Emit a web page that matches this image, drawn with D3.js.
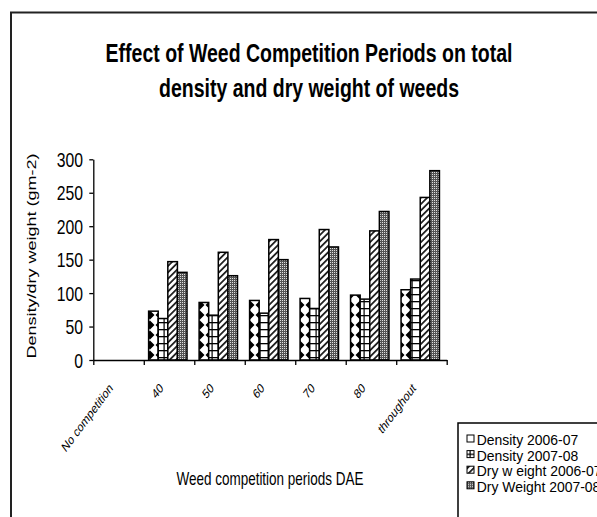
<!DOCTYPE html>
<html>
<head>
<meta charset="utf-8">
<script src="https://cdn.jsdelivr.net/npm/d3@7"></script>
<style>
  html, body { margin: 0; padding: 0; background: #fff; }
  svg { display: block; font-family: "Liberation Sans", Arial, sans-serif; }
</style>
</head>
<body>
<div id="chart"></div>
<script>
// data
const categories = ['No competition', '40', '50', '60', '70', '80', 'throughout'];
const seriesNames = ['Density 2006-07', 'Density 2007-08', 'Dry w eight 2006-07', 'Dry Weight 2007-08'];
const density0607 = [0, 73, 86, 89, 92, 97, 105];
const density0708 = [0, 62, 67, 70, 77, 91, 121];
const dryWeight0607 = [0, 147, 161, 180, 195, 193, 243];
const dryWeight0708 = [0, 131, 126, 150, 169, 222, 283];
const yTicks = [0, 50, 100, 150, 200, 250, 300];
const titleLines = ['Effect of Weed Competition Periods on total', 'density and dry weight of weeds'];

const W = 597, H = 517;
const sx = 0.75; // text in the picture is squeezed horizontally

const svg = d3.select('#chart').append('svg')
  .attr('width', W).attr('height', H);

const defs = svg.append('defs');

// density 2006-07: white with black bow-tie blobs
const p1 = defs.append('pattern').attr('id', 'pat0')
  .attr('patternUnits', 'userSpaceOnUse').attr('width', 10).attr('height', 10);
p1.append('rect').attr('width', 10).attr('height', 10).attr('fill', '#fff');
p1.append('path').attr('d', 'M0,0.5 L4.5,5 L0,9.5 Z M10,0.5 L5.5,5 L10,9.5 Z').attr('fill', '#000');

// density 2007-08: ladder / bricks
const p2 = defs.append('pattern').attr('id', 'pat1')
  .attr('patternUnits', 'userSpaceOnUse').attr('width', 8).attr('height', 7);
p2.append('rect').attr('width', 8).attr('height', 7).attr('fill', '#fff');
p2.append('rect').attr('width', 8).attr('height', 1.3).attr('fill', '#000');
p2.append('rect').attr('x', 3.5).attr('width', 1.2).attr('height', 7).attr('fill', '#000');

// dry weight 2006-07: wide upward diagonal
const p3 = defs.append('pattern').attr('id', 'pat2')
  .attr('patternUnits', 'userSpaceOnUse').attr('width', 4.5).attr('height', 4.5)
  .attr('patternTransform', 'rotate(45)');
p3.append('rect').attr('width', 4.5).attr('height', 4.5).attr('fill', '#fff');
p3.append('rect').attr('width', 1.8).attr('height', 4.5).attr('fill', '#222');

// dry weight 2007-08: fine grey dots
const p4 = defs.append('pattern').attr('id', 'pat3')
  .attr('patternUnits', 'userSpaceOnUse').attr('width', 2).attr('height', 2);
p4.append('rect').attr('width', 2).attr('height', 2).attr('fill', '#555');
p4.append('rect').attr('width', 1).attr('height', 1).attr('fill', '#e0e0e0');

const fills = ['url(#pat0)', 'url(#pat1)', 'url(#pat2)', 'url(#pat3)'];
const legendFills = ['#fff', 'url(#pat1)', 'url(#pat2)', 'url(#pat3)'];

// outer chart frame
svg.append('rect')
  .attr('x', 11).attr('y', 12.5).attr('width', 700).attr('height', 700)
  .attr('fill', 'none').attr('stroke', '#222').attr('stroke-width', 2);

// title
svg.selectAll('text.title')
  .data(titleLines)
  .enter()
  .append('text')
  .attr('class', 'title')
  .attr('transform', (d, i) => `translate(309,${62 + i * 35}) scale(${sx},1)`)
  .attr('text-anchor', 'middle')
  .attr('font-size', 26)
  .attr('font-weight', 'bold')
  .text(d => d);

// scales
const plotLeft = 93.3, plotRight = 446.7, plotTop = 159.3, plotBottom = 360;
const x0 = d3.scaleBand().domain(categories).range([plotLeft, plotRight]);
const x1 = d3.scaleBand().domain(d3.range(seriesNames.length))
  .range([0, x0.bandwidth()]).paddingOuter(0.63).align(0.4);
const y = d3.scaleLinear().domain([0, 300]).range([plotBottom, plotTop]);
const xEdges = d3.scaleLinear().domain([0, categories.length]).range([plotLeft, plotRight]);

const series = [density0607, density0708, dryWeight0607, dryWeight0708];
const rows = [];
categories.forEach((c, ci) => {
  series.forEach((s, si) => {
    if (s[ci] > 0) rows.push({cat: c, s: si, value: s[ci]});
  });
});

// bars
svg.append('g').selectAll('rect')
  .data(rows)
  .enter()
  .append('rect')
  .attr('x', d => x0(d.cat) + x1(d.s))
  .attr('width', x1.bandwidth())
  .attr('y', d => y(d.value))
  .attr('height', d => y(0) - y(d.value))
  .attr('fill', d => fills[d.s])
  .attr('stroke', '#000')
  .attr('stroke-width', 1.5);

// y axis
const yAxis = svg.append('g')
  .attr('transform', `translate(${plotLeft},0)`)
  .call(d3.axisLeft(y).tickValues(yTicks).tickSize(4).tickSizeOuter(0).tickFormat(''));
yAxis.selectAll('path, line').attr('stroke', '#000').attr('stroke-width', 1.3);

svg.append('g').selectAll('text')
  .data(yTicks)
  .enter()
  .append('text')
  .attr('transform', d => `translate(83,${y(d)}) scale(${sx},1)`)
  .attr('text-anchor', 'end')
  .attr('dy', '0.36em')
  .attr('font-size', 21)
  .text(d => d);

// x axis, ticks between the categories
const xAxis = svg.append('g')
  .attr('transform', `translate(0,${plotBottom})`)
  .call(d3.axisBottom(xEdges).tickValues(d3.range(categories.length + 1))
    .tickSize(5).tickSizeOuter(0).tickFormat(''));
xAxis.selectAll('path, line').attr('stroke', '#000').attr('stroke-width', 1.3);

svg.append('g').selectAll('text')
  .data(categories)
  .enter()
  .append('text')
  .attr('transform', d => `translate(${x0(d) + x0.bandwidth() / 2 - 5},389) scale(${sx},1) rotate(-45)`)
  .attr('text-anchor', 'end')
  .attr('font-size', 13.5)
  .text(d => d);

// axis titles
svg.append('text')
  .attr('transform', `translate(36,256) scale(${sx},1) rotate(-90)`)
  .attr('text-anchor', 'middle')
  .attr('font-size', 18)
  .text('Density/dry weight (gm-2)');

svg.append('text')
  .attr('transform', `translate(270,485) scale(${sx},1)`)
  .attr('text-anchor', 'middle')
  .attr('font-size', 18)
  .text('Weed competition periods DAE');

// legend (box runs past the right and bottom edges, as in the picture)
const legend = svg.append('g').attr('transform', 'translate(458,423)');
legend.append('rect')
  .attr('width', 200).attr('height', 150)
  .attr('fill', '#fff').attr('stroke', '#000').attr('stroke-width', 1.5);
const item = legend.selectAll('g.item')
  .data(seriesNames)
  .enter()
  .append('g')
  .attr('class', 'item')
  .attr('transform', (d, i) => `translate(0,${22 + i * 15.6})`);
item.append('rect')
  .attr('x', 9).attr('y', -10).attr('width', 7).attr('height', 7)
  .attr('fill', (d, i) => legendFills[i])
  .attr('stroke', '#000').attr('stroke-width', 1);
item.append('text')
  .attr('transform', `translate(18.7,0) scale(0.93,1)`)
  .attr('font-size', 15)
  .text(d => d);
</script>
</body>
</html>
